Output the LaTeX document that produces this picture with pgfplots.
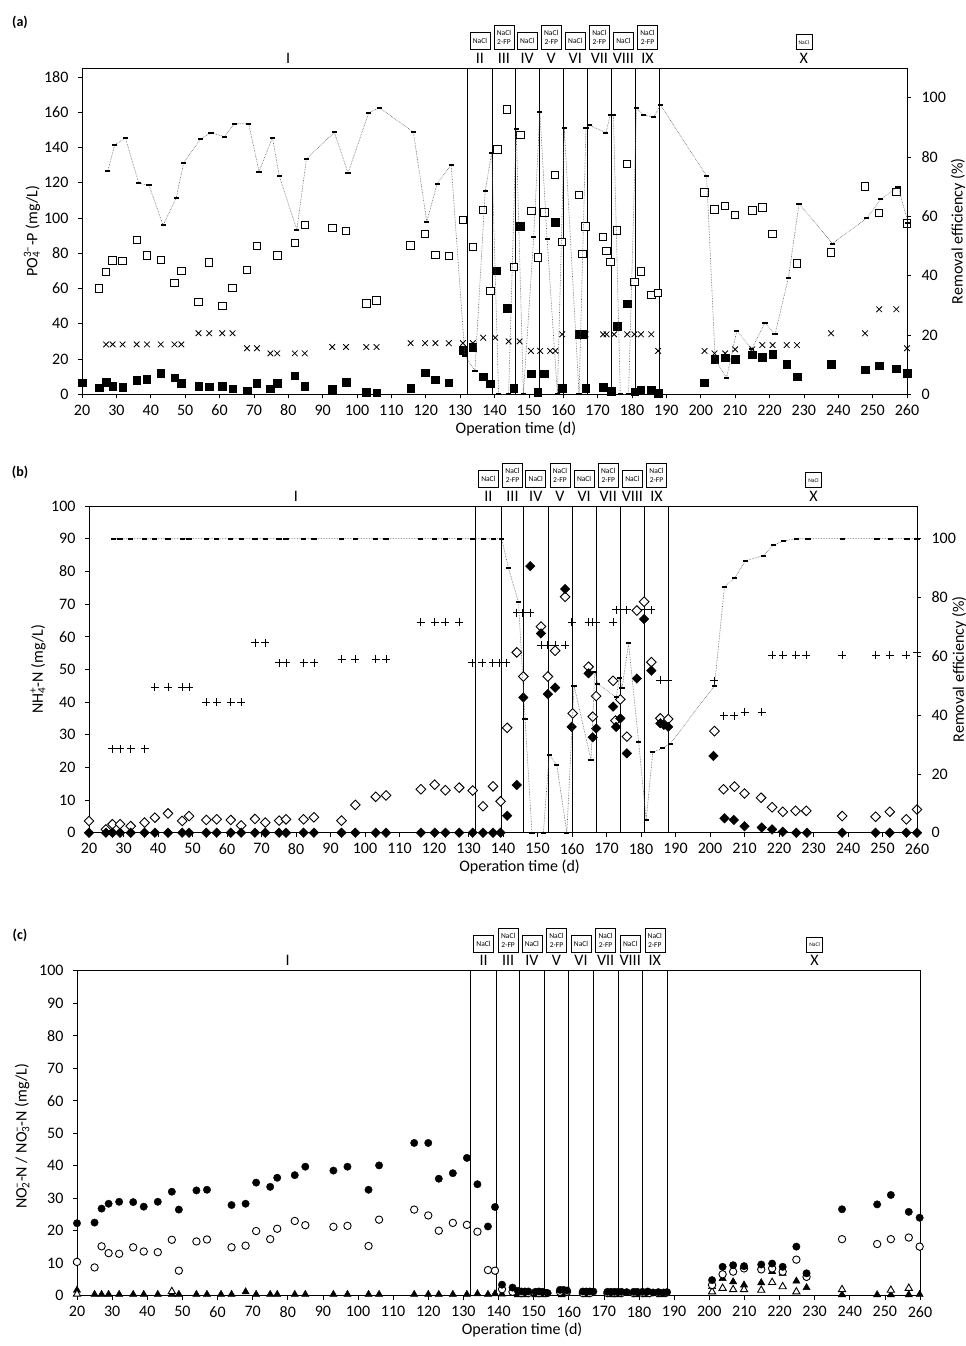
\documentclass[border=0pt]{standalone}
\usepackage{fontspec}
\setmainfont{Carlito}
\usepackage{pgfplots}
\pgfplotsset{compat=1.18}
\pgfplotsset{
 panel/.style={scale only axis, anchor=south west, xmin=20, xmax=260, clip=false,
   tick align=outside, major tick length=4pt,
   tick style={black, line width=0.6pt},
   axis line style={line width=0.6pt},
   ticklabel style={font=\fontsize{16}{16}\selectfont},
   label style={font=\fontsize{16}{19}\selectfont},
   /pgf/number format/assume math mode=true,
   /pgf/number format/1000 sep={}},
 leftax/.style={panel, xtick={20,30,...,260}, xtick pos=bottom, ytick pos=left,
   yticklabel style={xshift=-6pt}, xticklabel style={yshift=-3pt},
   extra x ticks={132,139.5,146,153,160,167,174,181,188}, extra x tick labels={},
   extra x tick style={grid=major, major tick length=0pt, major grid style={black, line width=0.6pt}}},
 rightax/.style={panel, axis y line*=right, axis x line=none, ymin=0, ytick={0,20,...,100},
   yticklabel style={xshift=7pt}},
 osq/.style={only marks, mark=square*, mark size=3.7pt, mark options={draw=black, fill=white, line width=0.9pt}},
 fsq/.style={only marks, mark=square*, mark size=3.7pt, mark options={draw=black, fill=black}},
 xm/.style={only marks, mark=x, mark size=4pt, mark options={black, line width=0.8pt}},
 pm/.style={only marks, mark=+, mark size=4pt, mark options={black, line width=0.8pt}},
 odi/.style={only marks, mark=square*, mark size=3.4pt, mark options={rotate=45, draw=black, fill=white, line width=0.9pt}},
 fdi/.style={only marks, mark=square*, mark size=3.4pt, mark options={rotate=45, draw=black, fill=black}},
 oci/.style={only marks, mark=*, mark size=3.7pt, mark options={draw=black, fill=white, line width=0.9pt}},
 fci/.style={only marks, mark=*, mark size=3.7pt, mark options={draw=black, fill=black}},
 otr/.style={only marks, mark=triangle*, mark size=4.2pt, mark options={draw=black, fill=white, line width=0.9pt}},
 ftr/.style={only marks, mark=triangle*, mark size=4.2pt, mark options={draw=black, fill=black}},
 eff/.style={densely dotted, line width=0.6pt, color=black!65, mark=-, mark size=2.6pt, mark options={solid, black, line width=2pt}},
}
\tikzset{
 num/.style={anchor=base, yshift=5pt, font=\fontsize{16}{16}\selectfont, inner sep=0pt},
 bx1/.style={draw, line width=0.6pt, anchor=south, yshift=18pt, font=\fontsize{7.5}{9}\selectfont, inner sep=1pt, minimum width=20pt, minimum height=17pt, align=center},
 bx2/.style={bx1, minimum height=24pt},
}
\newcommand\phaselabels[1]{%
 \node[num] at (axis cs:80,#1) {I};
 \node[num] at (axis cs:135.75,#1) {II};
 \node[num] at (axis cs:142.75,#1) {III};
 \node[num] at (axis cs:149.5,#1) {IV};
 \node[num] at (axis cs:156.5,#1) {V};
 \node[num] at (axis cs:163.5,#1) {VI};
 \node[num] at (axis cs:170.5,#1) {VII};
 \node[num] at (axis cs:177.5,#1) {VIII};
 \node[num] at (axis cs:184.5,#1) {IX};
 \node[num] at (axis cs:230,#1) {X};
 \node[bx1] at (axis cs:135.75,#1) {NaCl};
 \node[bx2] at (axis cs:142.75,#1) {NaCl\\2-FP};
 \node[bx1] at (axis cs:149.5,#1) {NaCl};
 \node[bx2] at (axis cs:156.5,#1) {NaCl\\2-FP};
 \node[bx1] at (axis cs:163.5,#1) {NaCl};
 \node[bx2] at (axis cs:170.5,#1) {NaCl\\2-FP};
 \node[bx1] at (axis cs:177.5,#1) {NaCl};
 \node[bx2] at (axis cs:184.5,#1) {NaCl\\2-FP};
 \node[bx1, font=\fontsize{5.5}{6}\selectfont, minimum width=16pt, minimum height=15pt] at (axis cs:230,#1) {NaCl};
}
\begin{document}
\begin{tikzpicture}
\useasboundingbox (0pt,0pt) rectangle (966pt,-1346pt);
\node[font=\bfseries\fontsize{14}{14}\selectfont] at (20pt,-22pt) {(a)};
\node[font=\bfseries\fontsize{14}{14}\selectfont] at (20pt,-472pt) {(b)};
\node[font=\bfseries\fontsize{14}{14}\selectfont] at (20pt,-935pt) {(c)};

%% ---------------- panel (a)
\begin{axis}[leftax, at={(82pt,-394.3pt)}, width=825pt, height=326.3pt,
  ymin=0, ymax=185, ytick={0,20,...,180},
  xlabel={Operation time (d)}, ylabel={PO\rlap{\textsubscript{4}}\textsuperscript{3–}-P (mg/L)},
  xlabel style={at={(axis description cs:0.526,0)}, anchor=north, yshift=-24pt},
  ylabel style={at={(axis description cs:-0.0606,0.5)}, anchor=center}]
\addplot[osq] coordinates {(24.9,60.1)(27,69.5)(28.9,75.9)(31.8,75.6)(35.9,87.6)(38.9,78.8)(42.9,76.1)(46.9,63.3)(48.9,69.9)(53.9,52.5)(57,74.8)(60.8,50.1)(63.8,60.4)(68,70.6)(70.9,84.1)(76.8,78.8)(81.9,85.8)(84.8,96.1)(92.8,94.4)(96.8,92.7)(102.7,51.6)(105.7,53.3)(115.6,84.4)(119.8,90.9)(122.8,79)(126.7,78.6)(130.8,99)(133.7,83.7)(136.7,104.5)(138.8,58.7)(140.8,138.9)(143.6,161.5)(145.6,72.1)(147.5,147.1)(150.7,103.9)(152.6,77.6)(154.5,103)(157.6,124.4)(159.7,86.3)(164.6,113)(165.6,79.5)(166.5,95.2)(171.6,89.2)(172.6,81.2)(173.7,75.1)(175.7,92.9)(178.6,130.6)(180.7,63.6)(182.6,69.6)(185.6,56.2)(187.6,57.5)(201.1,114.5)(204,104.8)(207.1,106.7)(210,101.6)(215,104.3)(217.9,106)(220.9,90.9)(228,74.2)(237.9,80.5)(247.8,117.9)(251.9,102.8)(256.9,114.8)(260,96.9)};
\addplot[fsq] coordinates {(20,6.6)(25,3.8)(27,6.8)(28.9,4.7)(31.8,4)(35.9,8.1)(38.9,8.5)(42.9,11.9)(46.9,9.4)(48.9,6.4)(53.9,4.7)(57,4.3)(60.8,4.5)(63.8,3.2)(68,2.1)(70.9,6.4)(74.8,3.2)(76.8,6.2)(81.9,10.6)(84.8,4.7)(92.8,3)(96.8,6.8)(102.7,1.1)(105.7,0.9)(115.6,3.4)(119.8,12.3)(122.8,8.3)(126.7,6.6)(130.9,25.1)(133.7,26.8)(136.7,10.1)(138.8,5.9)(140.7,70.2)(143.7,48.8)(145.6,3.4)(147.5,95.2)(150.7,11.7)(152.6,1.3)(154.5,11.7)(157.6,97.5)(159.7,3.4)(164.6,34)(165.6,34)(166.5,3.4)(171.6,4.1)(174,1.7)(175.7,38.6)(178.6,51.3)(180.7,1.5)(182.6,2.4)(185.6,2.4)(187.6,0.6)(201,6.5)(204,19.8)(207.1,20.8)(210,19.8)(215,22.3)(217.9,21)(220.9,22.7)(225,17)(228,10)(237.9,17)(247.8,13.8)(251.9,16.2)(256.9,14.4)(260,11.9)};
\addplot[xm] coordinates {(27,28.3)(28.9,28.3)(31.8,28.3)(35.9,28.3)(38.9,28.3)(42.9,28.3)(46.9,28.3)(48.9,28.3)(53.9,34.6)(57,34.6)(60.8,34.6)(63.8,34.6)(68,26.1)(70.9,26.1)(74.8,23.2)(76.8,23.2)(81.9,23.2)(84.8,23.2)(92.8,26.8)(96.8,26.8)(102.7,26.8)(105.7,26.8)(115.6,29)(119.8,29)(122.8,29)(126.7,29)(130.8,29)(133.7,29)(136.7,32.1)(140.2,32.1)(144.1,30)(147.3,30)(150.6,24.6)(153.3,24.6)(156.2,24.6)(157.7,24.6)(159.7,34)(164.6,34)(166.5,34)(171.6,34)(172.6,34)(174.8,34)(178.6,34)(180.7,34)(182.6,34)(185.6,34)(187.6,24.6)(201.1,24.6)(204,23.2)(207.1,23.2)(210,25.5)(215,25.5)(217.9,27.9)(220.9,27.9)(225,27.9)(228,27.9)(237.9,34.6)(247.8,34.6)(251.9,48.2)(256.9,48.2)(260,26.1)};
\phaselabels{185}
\end{axis}
\begin{axis}[rightax, at={(82pt,-394.3pt)}, width=825pt, height=326.3pt, ymax=110,
  ylabel={Removal efficiency (\%)},
  ylabel style={at={(axis description cs:1.062,0.5)}, anchor=center}]
\addplot[eff] coordinates {(27.5,75.3)(29.5,84)(32.6,86.5)(36.5,71.2)(39.5,70.4)(43.6,57)(47.4,66.2)(49.6,78.1)(54.5,86.1)(57.5,88.1)(61.4,86.9)(64.3,91.2)(68.5,91.2)(71.5,75.1)(75.4,86.5)(77.4,73.5)(82.5,55.5)(85.3,79.4)(93.4,88.3)(97.4,74.6)(103.4,94.9)(106.5,96.6)(116.4,88.4)(120.3,58.2)(123.3,71)(127.4,77.4)(131.4,12.9)(134.3,8)(137.3,68.6)(139.2,81.5)(141.2,0)(144.1,0)(146.3,89.6)(148.4,0)(151.4,52.9)(153.2,95.2)(155.3,52.3)(158.3,0)(160.3,89.7)(164.6,0)(166.6,89.7)(167.6,90.7)(172.4,88.2)(173.7,94.2)(174.6,94.2)(176.6,0)(179,0)(181.3,96.4)(183.4,94.2)(186.3,93.4)(188.3,97.5)(201.7,73.6)(204.2,11.6)(207.5,5.6)(210.5,21.5)(214.8,15.2)(218.7,24.2)(221.6,20.2)(225.5,39.3)(228.6,64.3)(238.3,50.8)(248.3,59.4)(252.4,65.7)(257.4,70)(260.3,57.9)};
\end{axis}

%% ---------------- panel (b)
\begin{axis}[leftax, at={(89pt,-832.7pt)}, width=828pt, height=326.7pt,
  ymin=0, ymax=100, ytick={0,10,...,100},
  xlabel={Operation time (d)}, ylabel={NH\rlap{\textsubscript{4}}\textsuperscript{+}-N (mg/L)},
  xlabel style={at={(axis description cs:0.52,0)}, anchor=north, yshift=-24pt},
  ylabel style={at={(axis description cs:-0.0616,0.5)}, anchor=center}]
\addplot[pm] coordinates {(26.8,25.7)(29,25.7)(32.1,25.7)(36.1,25.7)(39.1,44.5)(42.9,44.5)(47,44.5)(49,44.5)(54,40)(57,40)(61.1,40)(64.1,40)(68.1,58.2)(71.1,58.2)(75.1,52)(77.1,52)(82.2,52)(85.2,52)(93.2,53.2)(97.2,53.2)(103.1,53.2)(106.1,53.2)(116.2,64.4)(120.2,64.4)(123.3,64.4)(127.3,64.4)(131,52)(134,52)(137,52)(139,52)(141,52)(144,67.4)(145.5,67.4)(147.9,67.4)(151,57.4)(153,57.4)(155.1,57.4)(158,57.4)(159.9,64.4)(164.8,64.4)(166,64.4)(167,64.4)(171.9,64.4)(172.8,68.2)(174,68.2)(175.9,68.2)(178.8,68.2)(180.9,68.2)(183,68.2)(185.6,46.7)(187.9,46.7)(201.3,46.5)(204,35.8)(207,35.8)(210,36.8)(215,36.8)(218,54.4)(221.1,54.4)(224.8,54.4)(227.9,54.4)(238.3,54.4)(248,54.4)(252.1,54.4)(256.9,54.4)(260,55.1)};
\addplot[odi] coordinates {(20,3.6)(24.9,1)(26.8,2.6)(29,2.6)(32.1,2)(36.1,3.1)(39.1,4.6)(42.9,5.9)(47,3.6)(49,5.1)(54,3.9)(57,4.1)(61.1,3.9)(64.1,2.2)(68.1,4.2)(71.1,3.1)(75.1,3.7)(77.1,4.1)(82.2,4.1)(85.2,4.7)(93.2,3.7)(97.2,8.5)(103.1,11)(106.1,11.4)(116.2,13.3)(120.2,14.7)(123.3,13)(127.3,13.8)(131.2,12.9)(134.2,8.1)(137.1,14.2)(139.3,9.6)(141.2,32.1)(144,55.2)(145.9,47.8)(151,63.1)(153,47.8)(155.1,55.7)(158,72.2)(160.2,36.5)(164.8,50.8)(166,35.5)(167,41.8)(171.9,46.5)(172.6,34.3)(174,40.8)(175.9,29.4)(178.8,68)(180.9,70.7)(183,52.2)(185.6,35)(187.9,34.8)(201.3,31.1)(203.9,13.3)(207.1,14.1)(210,12)(214.8,10.7)(218,7.8)(221.1,6.4)(224.8,6.7)(227.9,6.7)(238.3,5.1)(248,4.9)(252.1,6.4)(256.9,4.1)(260,7.1)};
\addplot[fdi] coordinates {(20,0)(24.9,0)(26.8,0)(29,0)(32.1,0)(36.1,0)(39.1,0)(42.9,0)(47,0)(49,0)(54,0)(57,0)(61.1,0)(64.1,0)(68.1,0)(71.1,0)(75.1,0)(77.1,0)(82.2,0)(85.2,0)(93.2,0)(97.2,0)(103.1,0)(106.1,0)(116.2,0)(120.2,0)(123.3,0)(127.3,0)(131.2,0)(134.2,0)(137.1,0)(139.3,0)(141.2,5.2)(144,14.6)(145.9,41.4)(147.9,81.6)(151,61)(153,42.4)(155.1,44.4)(158,74.6)(159.9,32.4)(164.8,48.8)(166,29.2)(167,31.9)(171.9,38.6)(172.8,32.4)(174,35)(175.9,24.3)(178.8,47.2)(180.9,65.4)(183,49.6)(185.6,33.5)(186.6,33)(187.9,32.4)(201,23.5)(204.2,4.4)(206.9,3.9)(210,2)(215,1.6)(218,1)(221.1,0.3)(225,0)(228.1,0)(238.3,0)(248,0)(252.1,0)(256.9,0)(260,0)};
\phaselabels{100}
\end{axis}
\begin{axis}[rightax, at={(89pt,-832.7pt)}, width=828pt, height=326.7pt, ymax=111.1,
  ylabel={Removal efficiency (\%)},
  ylabel style={at={(axis description cs:1.051,0.5)}, anchor=center}]
\addplot[eff] coordinates {(27,100)(29,100)(32.1,100)(36.1,100)(39.1,100)(42.9,100)(47,100)(49,100)(54,100)(57,100)(61.1,100)(64.1,100)(68.1,100)(71.1,100)(75.1,100)(77.1,100)(82.2,100)(85.2,100)(93.2,100)(97.2,100)(103.1,100)(106.1,100)(116.2,100)(120.2,100)(123.3,100)(127.3,100)(131.2,100)(134.4,100)(137.3,100)(139.6,100)(141.6,89.9)(144.5,78.4)(146.4,38.5)(148.4,0)(151.7,0)(153.4,26.5)(155.6,23)(158.5,0)(160.6,50)(165.5,24.7)(166.6,54.8)(167.5,50.6)(172.8,46)(173.7,52.6)(174.5,49.2)(176.4,64.4)(179.3,31)(181.5,4.3)(183.4,27.3)(186.3,28.8)(188.5,30.3)(201.3,50)(204.2,83.7)(207.1,86.5)(210.3,92.5)(215.5,94.2)(218.4,97.8)(221.3,99.2)(225,100)(228.4,100)(238.3,100)(248.4,100)(252.4,100)(257.1,100)(260,100)};
\end{axis}

%% ---------------- panel (c)
\begin{axis}[leftax, at={(77pt,-1295.7pt)}, width=843pt, height=325pt,
  ymin=0, ymax=100, ytick={0,10,...,100},
  xlabel={Operation time (d)},
  ylabel={NO\rlap{\textsubscript{2}}\textsuperscript{–}-N / NO\rlap{\textsubscript{3}}\textsuperscript{–}-N (mg/L)},
  xlabel style={at={(axis description cs:0.528,0)}, anchor=north, yshift=-24pt},
  ylabel style={at={(axis description cs:-0.065,0.49)}, anchor=center}]
\addplot[ftr] coordinates {(20,1.7)(25,0.4)(27,0.4)(29,0.4)(32,0.4)(36,0.4)(39,0.4)(43,0.4)(47,0.4)(49,0.4)(54,0.4)(57,0.4)(61,0.4)(64,0.4)(68,1.2)(71,0.4)(75,0.4)(77,0.4)(82,0.4)(85,0.4)(93,0.4)(97,0.4)(103,0.4)(106,0.4)(116,0.4)(120,0.4)(123,0.4)(127,0.4)(131,0.4)(134,0.6)(137,0.4)(139,0.6)(141,0.5)(145.5,0.3)(147.5,0.3)(150.5,0.3)(152.5,0.3)(158,0.3)(165,0.3)(172,0.3)(174,0.3)(179,0.3)(182,0.3)(186,0.3)(200.8,2.8)(203.8,5.3)(206.8,4.3)(209.9,3.3)(214.8,4)(217.9,7.4)(220.9,6.9)(224.8,4.5)(227.7,2.5)(237.8,0.3)(247.8,0.3)(251.7,0.3)(256.8,0.3)(259.9,0.4)};
\addplot[otr] coordinates {(20,0.5)(47,1.3)(200.8,1.2)(203.8,2.3)(206.8,1.9)(209.9,1.9)(214.8,1.7)(217.9,4.1)(220.9,2.8)(224.8,1.2)(237.8,1.9)(251.7,1.7)(256.8,2.3)};
\addplot[oci] coordinates {(20,10.4)(25,8.7)(27,15.2)(29,13.1)(32,12.9)(36,14.9)(39,13.6)(43,13.4)(47,17.2)(49,7.7)(54,16.7)(57,17.3)(64,14.9)(68,15.4)(71,19.9)(75,17.4)(77,20.6)(82,23)(85,21.7)(93,21.2)(97,21.5)(103,15.3)(106,23.4)(116,26.5)(120,24.7)(123,20)(127,22.4)(131,21.8)(134,19.7)(137,7.9)(139,7.7)(141,2)(144,1.2)(146.5,0.8)(148.5,0.8)(151.5,0.8)(153.5,0.8)(157.5,1.2)(159.5,1.2)(164,0.8)(166,0.8)(171,0.8)(173,0.8)(175,0.8)(178.5,0.8)(181,0.8)(183,0.8)(185.5,0.8)(187.5,0.8)(200.8,3.3)(203.8,6.6)(206.8,7.4)(209.9,8.4)(214.8,8.1)(217.9,8.4)(220.9,7.4)(224.8,11.1)(227.7,5.8)(237.8,17.4)(247.8,15.9)(251.7,17.4)(256.8,17.9)(259.9,15.1)};
\addplot[fci] coordinates {(20,22.3)(25,22.5)(27,26.8)(29,28.3)(32,28.9)(36,28.8)(39,27.4)(43,28.9)(47,32)(49,26.5)(54,32.4)(57,32.6)(64,27.9)(68,28.3)(71,34.8)(75,33.5)(77,36.3)(82,37.1)(85,39.7)(93,38.5)(97,39.7)(103,32.6)(106,40.1)(116,47)(120,47)(123,36)(127,37.7)(131,42.4)(134,34.3)(137,21.3)(139,27.3)(141,3.4)(144,2.5)(145.5,1.5)(146.5,1.3)(147.5,1.3)(148.5,1.3)(150.5,1.2)(151.5,1.3)(152.5,1.2)(154,0.8)(157.5,1.8)(158.5,1.8)(159.5,1.6)(164,1.3)(165,1.3)(166,1.3)(167,1.3)(171,1.2)(172,1.2)(173,1.2)(174,1.2)(175,1.2)(176.5,1.1)(178.5,1.2)(179.5,1.2)(181,1.2)(182.5,1.3)(184,1)(185.5,1.1)(187,1)(188,1.1)(200.8,4.8)(203.8,8.9)(206.8,9.4)(209.9,9.1)(214.8,9.6)(217.9,9.9)(220.9,8.9)(224.8,15.1)(227.7,6.9)(237.8,26.6)(247.8,28.1)(251.7,31)(256.8,25.8)(259.9,24)};
\phaselabels{100}
\end{axis}
\end{tikzpicture}
\end{document}
